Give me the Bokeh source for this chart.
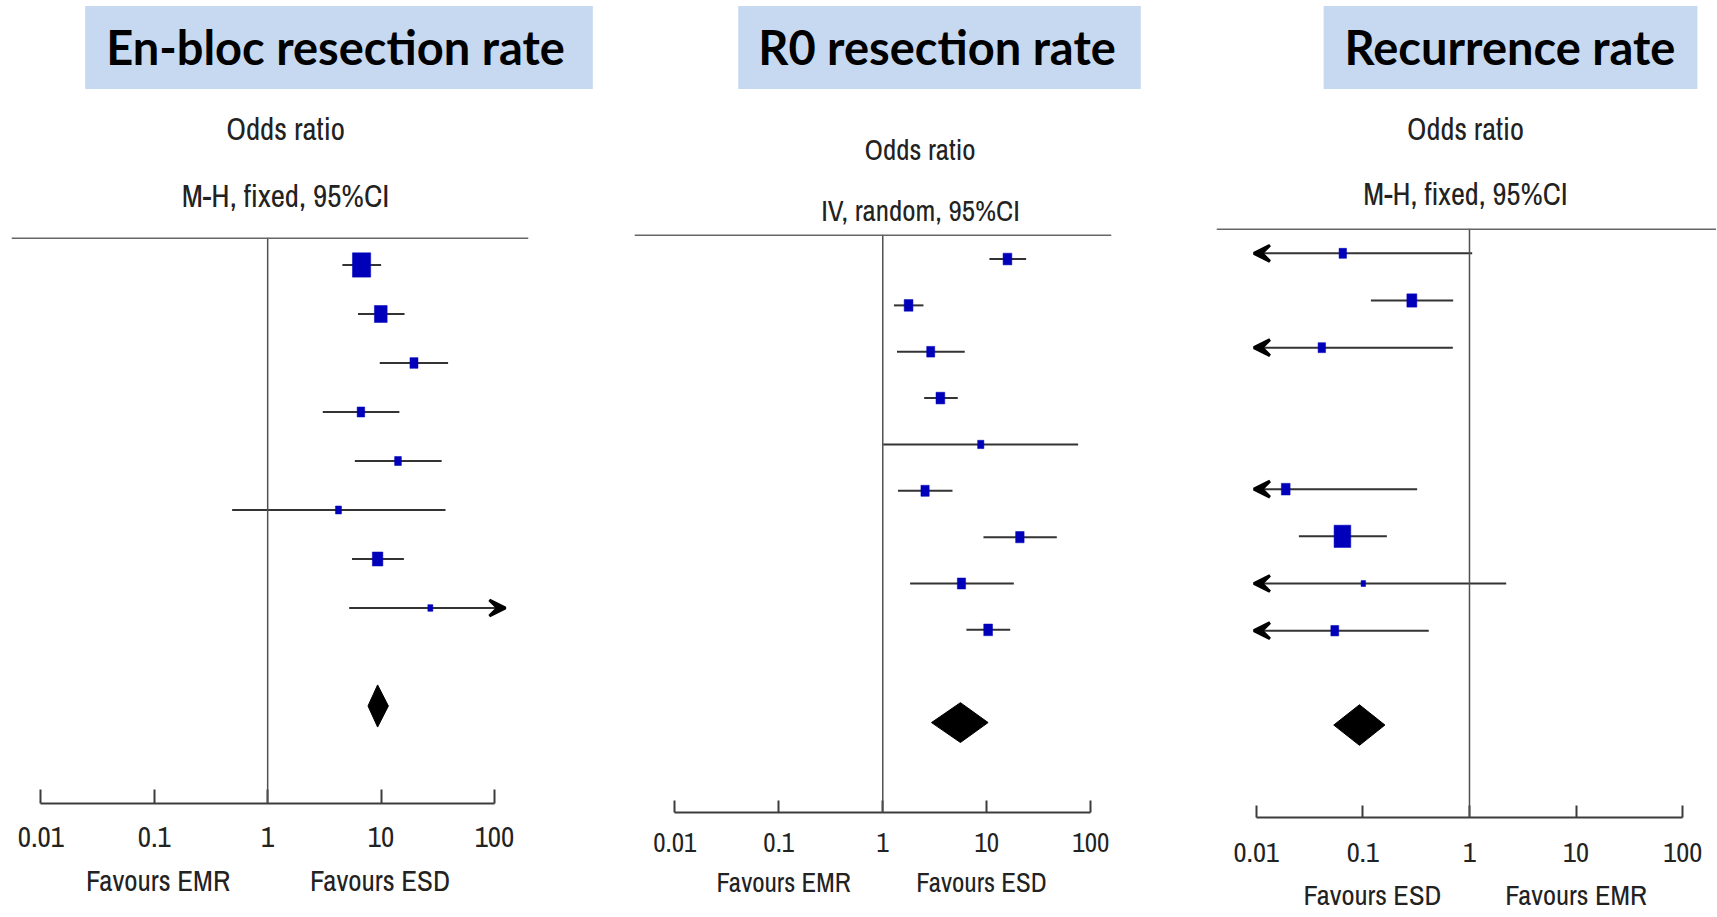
from bokeh.plotting import figure
from bokeh.models import (ColumnDataSource, Range1d, FixedTicker, CustomJSTickFormatter,
                          Span, Label, Arrow, VeeHead, LogAxis)
from bokeh.layouts import row, column
from bokeh.embed import file_html
from bokeh.resources import INLINE

# ---------------- data ----------------
tick_values = [0.01, 0.1, 1, 10, 100]
tick_labels = ["0.01", "0.1", "1", "10", "100"]

panel_titles = ["En-bloc resection rate", "R0 resection rate", "Recurrence rate"]
panel_measure = ["Odds ratio", "Odds ratio", "Odds ratio"]
panel_method = ["M-H, fixed, 95%CI", "IV, random, 95%CI", "M-H, fixed, 95%CI"]
favours_left = ["Favours EMR", "Favours EMR", "Favours ESD"]
favours_right = ["Favours ESD", "Favours ESD", "Favours EMR"]

# En-bloc resection rate
enbloc_or = [6.73, 9.94, 19.5, 6.64, 14.1, 4.21, 9.32, 27.2]
enbloc_lo = [4.56, 6.26, 9.73, 3.06, 5.87, 0.486, 5.54, 5.23]
enbloc_hi = [10.0, 16.1, 39.0, 14.5, 34.2, 37.0, 15.9, 141.0]
enbloc_weight = [39.9, 19.5, 7.7, 6.8, 5.5, 4.3, 13.3, 3.0]
enbloc_total = [9.32, 7.67, 11.6]

# R0 resection rate
r0_or = [15.8, 1.77, 2.89, 3.58, 8.75, 2.55, 20.8, 5.71, 10.3]
r0_lo = [10.6, 1.28, 1.37, 2.50, 1.01, 1.40, 9.29, 1.83, 6.37]
r0_hi = [23.9, 2.46, 6.14, 5.26, 75.5, 4.68, 47.1, 18.2, 16.8]
r0_weight = [12.4, 12.4, 10.4, 12.4, 6.3, 11.0, 11.6, 11.0, 12.4]
r0_total = [5.58, 2.94, 10.3]

# Recurrence rate (studies 4 and 5 not estimable)
rec_or = [0.0648, 0.288, 0.0412, None, None, 0.0189, 0.0643, 0.101, 0.0545]
rec_lo = [0.0040, 0.119, 0.0024, None, None, 0.0011, 0.0251, 0.0046, 0.0072]
rec_hi = [1.06, 0.703, 0.698, None, None, 0.323, 0.168, 2.21, 0.415]
rec_weight = [8.6, 15.3, 8.6, None, None, 11.8, 43.0, 3.1, 9.5]
rec_total = [0.0929, 0.0533, 0.161]

# ---------------- style / layout ----------------
TOTAL_W = 1716
TOTAL_H = 916
HEADER_H = 228
SMALL_FONT = "Archivo Narrow"
TITLE_FONT = "Lato"
BLUE = "#0000BB"
BOX_FILL = "#C6D9F1"
INK = "#222222"

cfgs = [
    dict(W=620, x0=0, bl=11, fw=517, top=237, bottom=803, lx0=-2.259, lx1=2.300, ytop=-0.561, ybot=10.99,
         clip=(0.0095, 125), k=3.85, tick=14, standoff=23, fs=29, fav_standoff=11,
         box=(338.5, 47), pad=(21, 28), meas=(285, 128.5), meth=(285, 195),
         fav=(157.5, 379.5)),
    dict(W=570, x0=620, bl=14, fw=477, top=234, bottom=812, lx0=-2.387, lx1=2.199, ytop=-0.529, ybot=11.94,
         clip=(0.0095, 125), k=3.32, tick=12, standoff=20, fs=27, fav_standoff=9,
         box=(939, 47), pad=(20, 25), meas=(919.5, 149), meth=(920, 209.5),
         fav=(783, 981)),
    dict(W=526, x0=1190, bl=26, fw=500, top=228, bottom=821, lx0=-2.373, lx1=2.317, ytop=-0.526, ybot=11.96,
         clip=(0.0095, 125), k=3.40, tick=12, standoff=25, fs=28.5, fav_standoff=11,
         box=(1510, 47), pad=(21, 22), meas=(1465, 128), meth=(1465, 193),
         fav=(1372, 1575.5)),
]

datasets = [
    (enbloc_or, enbloc_lo, enbloc_hi, enbloc_weight, enbloc_total),
    (r0_or, r0_lo, r0_hi, r0_weight, r0_total),
    (rec_or, rec_lo, rec_hi, rec_weight, rec_total),
]

fmt_code = """
for (let i = 0; i < vals.length; i++) {
  if (Math.abs(vals[i] - tick) <= 1e-6 * vals[i]) { return labs[i]; }
}
return "";
"""

# ---------------- header: title boxes and column headings ----------------
hdr = figure(width=TOTAL_W, height=HEADER_H, x_range=Range1d(0, TOTAL_W), y_range=Range1d(HEADER_H, 0),
             x_axis_location=None, y_axis_location=None, output_backend="svg",
             toolbar_location=None, min_border=0)
hdr.grid.grid_line_color = None
hdr.outline_line_color = None
for i, c in enumerate(cfgs):
    bx, by = c["box"]
    pl, pr = c["pad"]
    hdr.add_layout(Label(x=bx, y=by, text=panel_titles[i],
                         text_font=TITLE_FONT, text_font_style="bold", text_font_size="47px",
                         text_color="black", text_align="center", text_baseline="middle",
                         background_fill_color=BOX_FILL,
                         padding=dict(left=pl, right=pr, top=13, bottom=14)))
    for txt, (tx, ty) in ((panel_measure[i], c["meas"]), (panel_method[i], c["meth"])):
        hdr.add_layout(Label(x=tx, y=ty, text=txt, text_font=SMALL_FONT,
                             text_font_size="%gpx" % (c["fs"] + 2), text_color=INK,
                             text_align="center", text_baseline="middle"))


def build(i):
    c = cfgs[i]
    est, lo, hi, wt, tot = datasets[i]
    W = c["W"]
    fig_h = TOTAL_H - HEADER_H
    p = figure(width=W, height=fig_h, x_axis_type="log",
               x_range=Range1d(10 ** c["lx0"], 10 ** c["lx1"]),
               y_range=Range1d(c["ybot"], c["ytop"]),
               x_axis_location=None, y_axis_location=None,
               output_backend="svg", toolbar_location=None,
               min_border_left=c["bl"], min_border_right=W - c["bl"] - c["fw"],
               min_border_top=c["top"] - HEADER_H, min_border_bottom=TOTAL_H - c["bottom"])
    p.grid.grid_line_color = None
    p.outline_line_color = None

    ax = LogAxis(ticker=FixedTicker(ticks=tick_values, minor_ticks=[]),
                 bounds=(min(tick_values), max(tick_values)),
                 formatter=CustomJSTickFormatter(args=dict(vals=tick_values, labs=tick_labels), code=fmt_code),
                 major_tick_in=c["tick"], major_tick_out=0, minor_tick_in=0, minor_tick_out=0,
                 axis_line_width=2, axis_line_color="#3c3c3c",
                 major_tick_line_width=2, major_tick_line_color="#3c3c3c",
                 major_label_standoff=c["standoff"], major_label_text_font=SMALL_FONT,
                 major_label_text_font_size="%gpx" % c["fs"], major_label_text_color=INK)
    p.add_layout(ax, "below")

    # "Favours ..." captions as a second, line-less axis under the first
    span_log = c["lx1"] - c["lx0"]
    fav_ticks = [10 ** (c["lx0"] + (fx - c["x0"] - c["bl"]) / c["fw"] * span_log) for fx in c["fav"]]
    fav_labs = [favours_left[i], favours_right[i]]
    ax2 = LogAxis(ticker=FixedTicker(ticks=fav_ticks, minor_ticks=[]),
                  formatter=CustomJSTickFormatter(args=dict(vals=fav_ticks, labs=fav_labs), code=fmt_code),
                  axis_line_color=None, major_tick_line_color=None, minor_tick_line_color=None,
                  major_tick_in=0, major_tick_out=0, minor_tick_in=0, minor_tick_out=0,
                  major_label_standoff=c["fav_standoff"], major_label_text_font=SMALL_FONT,
                  major_label_text_font_size="%gpx" % c["fs"], major_label_text_color=INK)
    p.add_layout(ax2, "below")

    p.add_layout(Span(location=1, dimension="height", line_color="#505050", line_width=1.5))
    p.add_layout(Span(location=c["ytop"], dimension="width", line_color="#666666", line_width=3))

    clo, chi = c["clip"]
    ys, e_, x0, x1, w, h = [], [], [], [], [], []
    arrows = dict(xs=[], xe=[], y=[])
    for j in range(len(est)):
        if est[j] is None:
            continue
        ys.append(j)
        e_.append(est[j])
        x0.append(max(lo[j], clo))
        x1.append(min(hi[j], chi))
        side = c["k"] * wt[j] ** 0.5
        h.append(side)
        w.append(side * 0.75)
        if hi[j] > chi:
            arrows["xs"].append(est[j]); arrows["xe"].append(chi); arrows["y"].append(j)
        if lo[j] < clo:
            arrows["xs"].append(est[j]); arrows["xe"].append(clo); arrows["y"].append(j)
    src = ColumnDataSource(dict(y=ys, est=e_, x0=x0, x1=x1, w=w, h=h))
    p.segment(x0="x0", y0="y", x1="x1", y1="y", source=src, line_color="#333333", line_width=2)
    p.rect(x="est", y="y", width="w", height="h", width_units="screen", height_units="screen",
           source=src, fill_color=BLUE, line_color=BLUE, line_width=0.5)
    if arrows["y"]:
        asrc = ColumnDataSource(arrows)
        p.add_layout(Arrow(end=VeeHead(size=16, fill_color="black", line_color="black", line_width=3),
                           x_start="xs", y_start="y", x_end="xe", y_end="y", source=asrc,
                           line_alpha=0))

    d = len(est) + 1
    hh = 0.43
    p.patch(x=[tot[1], tot[0], tot[2], tot[0]], y=[d, d - hh, d, d + hh],
            fill_color="black", line_color="black", line_width=1)
    return column(p)


layout = column(hdr, row(build(0), build(1), build(2), spacing=0), spacing=0)
open("out.html", "w").write(file_html(layout, INLINE))
